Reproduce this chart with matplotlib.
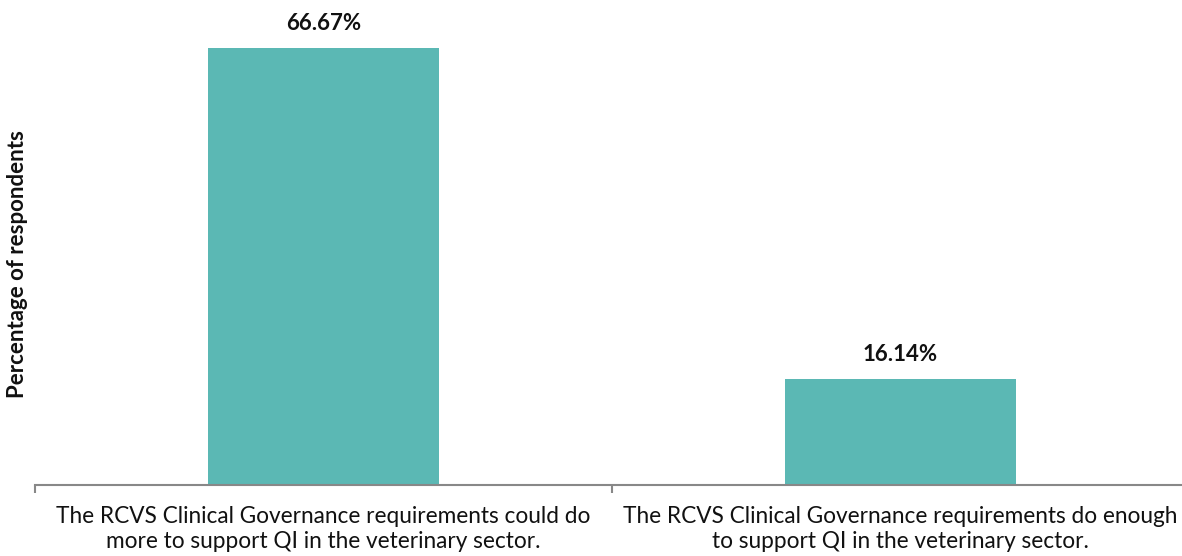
import matplotlib
matplotlib.use("Agg")
import matplotlib.pyplot as plt

categories = [
    "The RCVS Clinical Governance requirements could do\nmore to support QI in the veterinary sector.",
    "The RCVS Clinical Governance requirements do enough\nto support QI in the veterinary sector.",
]
values = [66.67, 16.14]
value_labels = ["66.67%", "16.14%"]

W, H = 1182, 556
fig = plt.figure(figsize=(W / 100, H / 100), dpi=100)
left, right, bottom, top = 35, 1189, 485, 26
ax = fig.add_axes([left / W, (H - bottom) / H, (right - left) / W, (bottom - top) / H])

x = list(range(len(categories)))
ax.bar(x, values, width=0.4, color="#5BB8B4", zorder=2)
ax.set_xlim(-0.5, len(categories) - 0.5)
ax.set_ylim(0, 70)

for xi, v, lab in zip(x, values, value_labels):
    ax.annotate(lab, (xi, v), xytext=(0, 10), textcoords="offset points",
                ha="center", va="bottom", fontsize=16, fontweight="bold",
                family=["Lato", "DejaVu Sans"], color="#111111", clip_on=False)

for s in ["top", "right", "left"]:
    ax.spines[s].set_visible(False)
ax.spines["bottom"].set_color("#888888")
ax.spines["bottom"].set_linewidth(1.5)
ax.set_yticks([])
ax.set_xticks([-0.5, 0.5, 1.5], minor=False)
ax.set_xticklabels(["", "", ""])
ax.tick_params(axis="x", length=6, width=1.5, color="#888888")
ax.set_xticks(x, minor=True)
ax.set_xticklabels(categories, minor=True, fontsize=16.3, family=["Lato", "DejaVu Sans"],
                   color="#111111", linespacing=1.22)
ax.tick_params(axis="x", which="minor", length=0, pad=15)

fig.text(18 / W, 1 - 264 / H, "Percentage of respondents", rotation=90, ha="center", va="center",
         fontsize=16, fontweight="bold", family=["Lato", "DejaVu Sans"], color="#111111")

fig.savefig("out.png", dpi=100)
